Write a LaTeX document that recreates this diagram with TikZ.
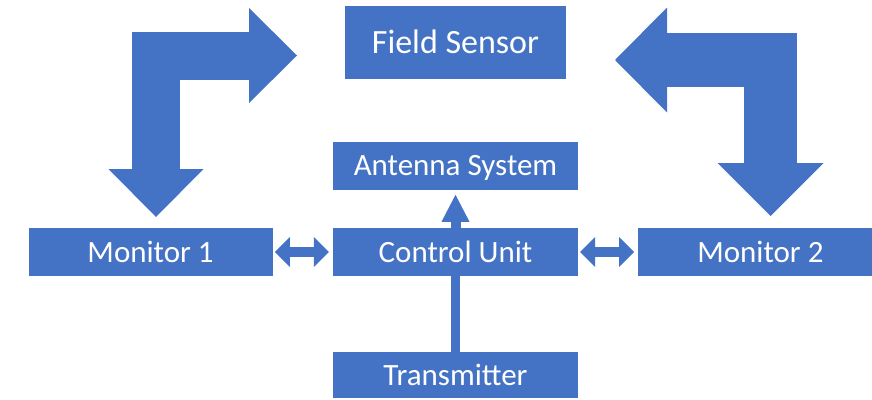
\documentclass[tikz,border=0pt]{standalone}
\usepackage{fontspec}
\setmainfont{Carlito}
\usetikzlibrary{positioning, arrows.meta}
\definecolor{boxblue}{HTML}{4472C4}

\tikzset{
    block/.style={fill=boxblue, text=white, inner sep=0pt,
        minimum width=245pt, minimum height=48pt,
        text height=20pt, text depth=0pt,
        font=\fontsize{31}{36}\selectfont},
    twoway/.style={draw=boxblue, line width=10pt,
        {Triangle[width=30pt, length=15pt, line width=0pt]}-{Triangle[width=30pt, length=15pt, line width=0pt]},
        shorten <=2pt, shorten >=4pt},
    oneway/.style={draw=boxblue, line width=10pt,
        -{Triangle[width=28pt, length=27pt, line width=0pt]}},
    bent/.style={draw=boxblue, line join=miter},
}

\begin{document}
\begin{tikzpicture}[x=1pt, y=-1pt]
    \path [use as bounding box, clip] (0,0) rectangle (872,399);
    % boxes
    \node [block] (cu) at (455.5,252) {Control Unit};
    \node [block, minimum width=244pt, left=60pt of cu] (m1) {Monitor 1};
    \node [block, minimum width=244pt, right=60pt of cu] (m2) {Monitor 2};
    \node [block, above=38pt of cu] (ant) {Antenna System};
    \node [block, minimum height=46pt, below=76pt of cu] (tx) {Transmitter};
    \node [block, minimum width=221pt, minimum height=73pt, text height=22pt,
        font=\fontsize{34}{40}\selectfont, above=62pt of ant] (fs) {Field Sensor};

    % big bent arrows
    \coordinate (lt) at (156,217);
    \coordinate (lr) at (297,55.5);
    \coordinate (rt) at (770.5,216);
    \coordinate (rl) at (615,60);
    \draw [bent, line width=48pt,
        {Triangle[width=95pt, length=48pt, line width=0pt]}-{Triangle[width=95pt, length=48pt, line width=0pt]}]
        (lt) |- (lr);
    \draw [bent, line width=53.5pt,
        {Triangle[width=106pt, length=53pt, line width=0pt]}-{Triangle[width=105pt, length=52pt, line width=0pt]}]
        (rt) |- (rl);

    % links
    \draw [twoway] (m1.east) -- (cu.west);
    \draw [twoway] (cu.east) -- (m2.west);
    \draw [oneway, shorten >=5pt] (cu.north) -- (ant.south);
    \draw [boxblue, line width=9pt] (tx.north) -- (cu.south);
\end{tikzpicture}
\end{document}
